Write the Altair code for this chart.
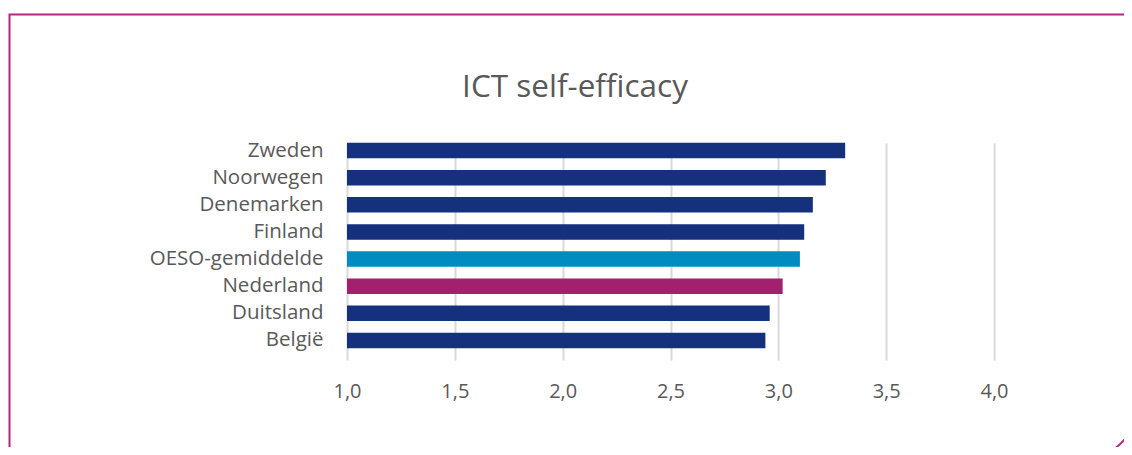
import altair as alt
import pandas as pd

countries = ["Zweden", "Noorwegen", "Denemarken", "Finland", "OESO-gemiddelde",
             "Nederland", "Duitsland", "België"]
values = [3.31, 3.22, 3.16, 3.12, 3.10, 3.02, 2.96, 2.94]
groups = ["land", "land", "land", "land", "oeso", "nl", "land", "land"]
tick_values = [1.0, 1.5, 2.0, 2.5, 3.0, 3.5, 4.0]
title_text = "ICT self-efficacy"

df = pd.DataFrame({"land": countries, "waarde": values, "groep": groups})

FONT = "Open Sans"
GRAY = "#595959"

bars = alt.Chart(df).mark_bar(clip=True).encode(
    x=alt.X("waarde:Q",
            scale=alt.Scale(domain=[1.0, 4.0], nice=False, zero=False),
            axis=alt.Axis(values=tick_values, title=None, grid=True,
                          gridColor="#D9D9D9", gridWidth=2, domain=False,
                          ticks=False, labelPadding=21, labelFontSize=20,
                          labelColor=GRAY, labelFont=FONT, labelFlush=False,
                          labelExpr="replace(format(datum.value, '.1f'), '.', ',')")),
    x2=alt.datum(1.0),
    y=alt.Y("land:N", sort=countries,
            scale=alt.Scale(range=[0, 217], paddingInner=0.43, paddingOuter=0.215),
            axis=alt.Axis(title=None, domain=False, ticks=False, grid=False,
                          labelPadding=24, labelFontSize=20.5, labelColor=GRAY,
                          labelFont=FONT)),
    color=alt.Color("groep:N",
                    scale=alt.Scale(domain=["land", "oeso", "nl"],
                                    range=["#15317E", "#008CC0", "#A3206F"]),
                    legend=None),
)

border = alt.Chart(pd.DataFrame({"k": [0]})).mark_rect(
    fill=None, fillOpacity=0, stroke="#B0287F", strokeWidth=2,
    cornerRadiusBottomRight=56,
).encode(
    x=alt.value(-337.5), x2=alt.value(791),
    y=alt.value(-122.5), y2=alt.value(322),
)

title = alt.Chart(pd.DataFrame({"t": [title_text]})).mark_text(
    font=FONT, fontSize=31.5, color=GRAY, align="center", baseline="alphabetic",
).encode(
    text="t:N", x=alt.value(228), y=alt.value(-40),
)

chart = alt.layer(border, title, bars).properties(
    width=647, height=223,
    autosize=alt.AutoSizeParams(type="none"),
    padding={"left": 339, "top": 129, "right": 130, "bottom": 87},
).configure_view(stroke=None)

chart.save("out.html", embed_options={"renderer": "svg", "actions": False})
